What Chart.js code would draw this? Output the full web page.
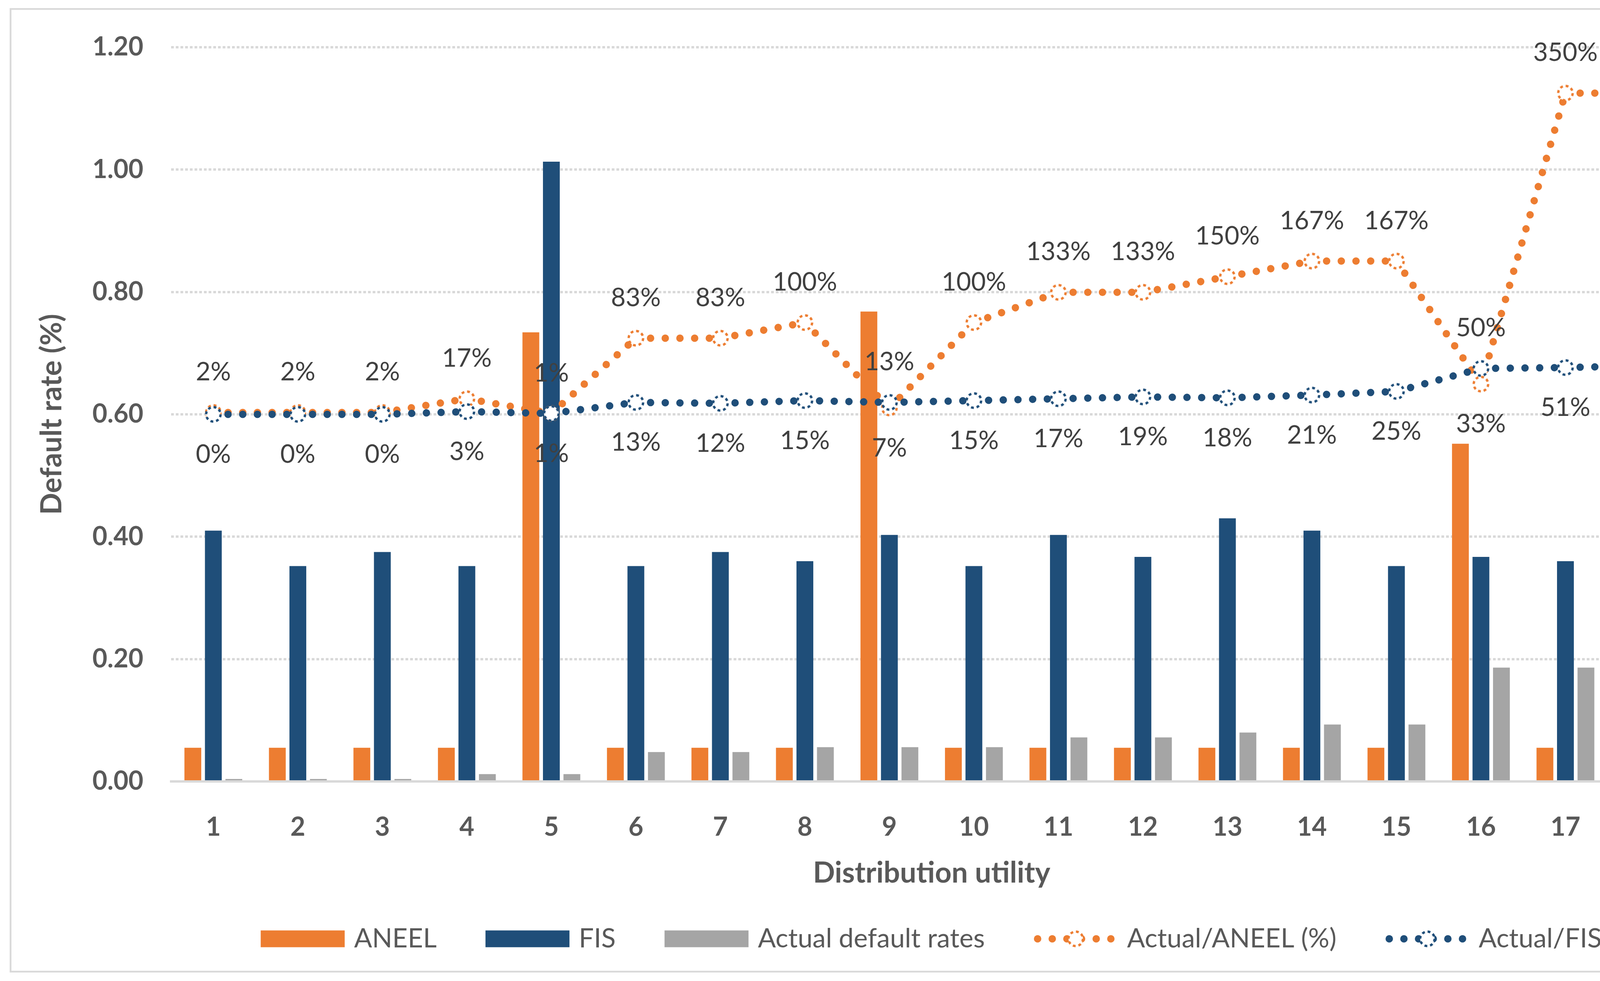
<!DOCTYPE html>
<html>
<head>
<meta charset="utf-8">
<title>Default rate by distribution utility</title>
<script src="https://cdn.jsdelivr.net/npm/chart.js@4.4.1/dist/chart.umd.min.js"></script>
<style>
  html, body { margin: 0; padding: 0; background: #ffffff; overflow: hidden; }
  #chart { display: block; width: 4416px; height: 2512px; }
</style>
</head>
<body>
<canvas id="chart" width="4416" height="2512"></canvas>
<script>
// Données
const utilities = ['1', '2', '3', '4', '5', '6', '7', '8', '9', '10', '11', '12', '13', '14', '15', '16', '17', '18'];
const aneelRates = [0.055, 0.055, 0.055, 0.055, 0.734, 0.055, 0.055, 0.055, 0.768, 0.055, 0.055, 0.055, 0.055, 0.055, 0.055, 0.552, 0.055, 0.055];
const fisRates = [0.410, 0.352, 0.375, 0.352, 1.013, 0.352, 0.375, 0.360, 0.403, 0.352, 0.403, 0.367, 0.430, 0.410, 0.352, 0.367, 0.360, 0.352];
const actualRates = [0.004, 0.004, 0.004, 0.012, 0.012, 0.048, 0.048, 0.056, 0.056, 0.056, 0.072, 0.072, 0.080, 0.093, 0.093, 0.186, 0.186, 0.186];
const actualVsAneel = [2, 2, 2, 17, 1, 83, 83, 100, 7, 100, 133, 133, 150, 167, 167, 33, 350, 350]; // %
const actualVsFis = [0, 0, 0, 3, 1, 13, 12, 15, 13, 15, 17, 19, 18, 21, 25, 50, 51, 53]; // %
const yTicks = [0, 0.2, 0.4, 0.6, 0.8, 1.0, 1.2];

const ORANGE = '#ED7D31';
const BLUE = '#1F4E79';
const GRAY = '#A5A5A5';
const TEXT = '#595959';
const FONT = 'Lato';

// Marqueur rond à bordure en pointillés (fond blanc)
function makeMarker(color) {
  const c = document.createElement('canvas');
  c.width = 50;
  c.height = 50;
  const g = c.getContext('2d');
  const r = 18.5;
  g.beginPath();
  g.arc(25, 25, r, 0, Math.PI * 2);
  g.fillStyle = '#ffffff';
  g.fill();
  const dash = (2 * Math.PI * r) / 16;
  g.setLineDash([dash, dash]);
  g.lineWidth = 6;
  g.strokeStyle = color;
  g.stroke();
  return c;
}
const markerOrange = makeMarker(ORANGE);
const markerBlue = makeMarker(BLUE);

// Fond blanc + cadre gris
const framePlugin = {
  id: 'frame',
  beforeDraw(chart) {
    const ctx = chart.ctx;
    ctx.save();
    ctx.fillStyle = '#ffffff';
    ctx.fillRect(0, 0, chart.width, chart.height);
    ctx.strokeStyle = '#D9D9D9';
    ctx.lineWidth = 4.5;
    ctx.strokeRect(27, 23, 4358, 2465);
    ctx.restore();
  },
};

// Étiquettes des courbes : la plus haute au-dessus, l'autre en dessous
const lineLabelsPlugin = {
  id: 'lineLabels',
  afterDatasetsDraw(chart) {
    const ctx = chart.ctx;
    const metaA = chart.getDatasetMeta(3);
    const metaF = chart.getDatasetMeta(4);
    ctx.save();
    ctx.font = `65px ${FONT}`;
    ctx.fillStyle = '#404040';
    ctx.textAlign = 'center';
    ctx.textBaseline = 'middle';
    metaA.data.forEach((pa, i) => {
      const pf = metaF.data[i];
      const a = { p: pa, v: actualVsAneel[i] };
      const f = { p: pf, v: actualVsFis[i] };
      const hi = pa.y <= pf.y ? a : f;
      const lo = hi === a ? f : a;
      ctx.fillText(hi.v + '%', hi.p.x, hi.p.y - 103);
      ctx.fillText(lo.v + '%', lo.p.x, lo.p.y + 103);
    });
    ctx.restore();
  },
};

// Légende dessinée à la main (boîtes larges et icônes de ligne pointillée)
const legendPlugin = {
  id: 'customLegend',
  afterDraw(chart) {
    const ctx = chart.ctx;
    const iconW = 215, gap = 24, spacing = 125;
    const y = chart.chartArea.bottom + 403;
    ctx.save();
    ctx.font = `68px ${FONT}`;
    ctx.textBaseline = 'middle';
    ctx.textAlign = 'left';
    const items = chart.data.datasets.map(ds => ({
      text: ds.label,
      line: ds.type === 'line',
      color: ds.borderColor || ds.backgroundColor,
      marker: ds.pointStyle,
    }));
    const widths = items.map(it => iconW + gap + ctx.measureText(it.text).width);
    const total = widths.reduce((s, w) => s + w, 0) + spacing * (items.length - 1);
    let x = 2438 - total / 2;
    items.forEach((it, i) => {
      if (it.line) {
        ctx.fillStyle = it.color;
        for (let k = 0; k < 6; k++) {
          ctx.beginPath();
          ctx.arc(x + 10 + k * 37.5, y, 9.5, 0, Math.PI * 2);
          ctx.fill();
        }
        ctx.drawImage(it.marker, x + 107.5 - 25, y - 25);
      } else {
        ctx.fillStyle = it.color;
        ctx.fillRect(x, y - 21.5, iconW, 43);
      }
      ctx.fillStyle = TEXT;
      ctx.fillText(it.text, x + iconW + gap, y);
      x += widths[i] + spacing;
    });
    ctx.restore();
  },
};

function lineDataset(label, data, color, marker, order) {
  return {
    type: 'line',
    label: label,
    data: data,
    yAxisID: 'y2',
    borderColor: color,
    borderWidth: 19,
    borderDash: [0.01, 37.6],
    borderCapStyle: 'round',
    pointStyle: marker,
    pointRadius: 20,
    pointHoverRadius: 20,
    tension: 0,
    fill: false,
    order: order,
    // recommence le pointillé à chaque segment
    segment: { borderDashOffset: c => (c.p0DataIndex % 2) * 0.001 },
  };
}

function drawChart() {
  const tickFont = { family: FONT, size: 66, weight: 'bold' };
  const titleFont = { family: FONT, size: 74, weight: 'bold' };

  new Chart(document.getElementById('chart'), {
    data: {
      labels: utilities,
      datasets: [
        { type: 'bar', label: 'ANEEL', data: aneelRates, backgroundColor: ORANGE, order: 3, yAxisID: 'y' },
        { type: 'bar', label: 'FIS', data: fisRates, backgroundColor: BLUE, order: 4, yAxisID: 'y' },
        { type: 'bar', label: 'Actual default rates', data: actualRates, backgroundColor: GRAY, order: 5, yAxisID: 'y' },
        lineDataset('Actual/ANEEL (%)', actualVsAneel, ORANGE, markerOrange, 2),
        lineDataset('Actual/FIS (%)', actualVsFis, BLUE, markerBlue, 1),
      ],
    },
    options: {
      responsive: false,
      devicePixelRatio: 1,
      animation: false,
      events: [],
      layout: { padding: { top: 121, right: 84, bottom: 211, left: 0 } },
      datasets: {
        bar: { categoryPercentage: 0.728, barPercentage: 0.82 },
      },
      plugins: {
        legend: { display: false },
        tooltip: { enabled: false },
      },
      scales: {
        x: {
          offset: true,
          grid: { display: false, drawTicks: false },
          border: { display: true, color: '#D9D9D9', width: 6 },
          ticks: { font: tickFont, color: TEXT, padding: 78 },
          title: { display: true, text: 'Distribution utility', font: titleFont, color: TEXT, padding: { top: 0, bottom: 20 } },
          afterFit: scale => { scale.height = 300; },
        },
        y: {
          min: 0,
          max: 1.2,
          afterBuildTicks: scale => { scale.ticks = yTicks.map(v => ({ value: v })); },
          ticks: { font: tickFont, color: TEXT, padding: 71, callback: v => Number(v).toFixed(2) },
          grid: { color: '#D9D9D9', lineWidth: 6, drawTicks: false },
          border: { display: false, dash: [7, 5] },
          title: { display: true, text: 'Default rate (%)', font: titleFont, color: TEXT, padding: { top: 89, bottom: 0 } },
          afterFit: scale => { scale.width = 438; },
        },
        y2: { display: false, min: -400, max: 400 },
      },
    },
    plugins: [framePlugin, lineLabelsPlugin, legendPlugin],
  });
}

Promise.all([
  document.fonts.load(`62px ${FONT}`),
  document.fonts.load(`bold 62px ${FONT}`),
]).then(drawChart, drawChart);
</script>
</body>
</html>
